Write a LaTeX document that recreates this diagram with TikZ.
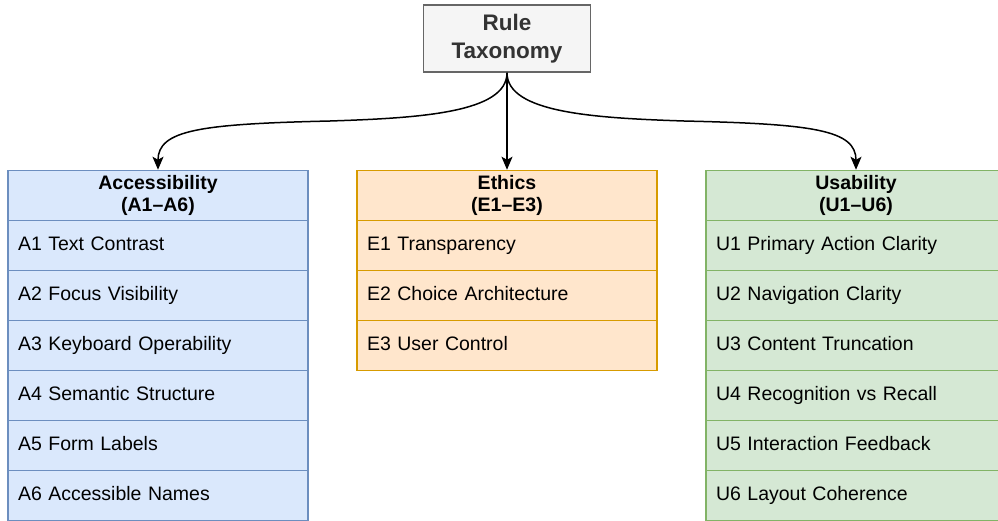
\documentclass[tikz,border=0pt]{standalone}
\usepackage{fontspec}
\setmainfont{Liberation Sans}
\usetikzlibrary{arrows.meta}
\definecolor{accFill}{HTML}{DAE8FC}
\definecolor{accLine}{HTML}{6C8EBF}
\definecolor{ethFill}{HTML}{FFE6CC}
\definecolor{ethLine}{HTML}{D79B00}
\definecolor{usaFill}{HTML}{D5E8D4}
\definecolor{usaLine}{HTML}{82B366}
\definecolor{rootFill}{HTML}{F5F5F5}
\definecolor{rootLine}{HTML}{666666}
\definecolor{rootText}{HTML}{333333}

\begin{document}
\begin{tikzpicture}[x=1pt,y=-1pt,
  cell/.style={rectangle, line width=1.5pt, minimum width=300pt, minimum height=50pt,
    inner xsep=10pt, inner ysep=0pt, text width=280pt},
  rowcell/.style={cell, align=left, text height=14pt, text depth=4pt,
    font=\fontsize{19.5}{22}\selectfont},
  headcell/.style={cell, align=center, font=\fontsize{19.5}{22}\selectfont\bfseries},
  acc/.style={fill=accFill, draw=accLine},
  eth/.style={fill=ethFill, draw=ethLine},
  usa/.style={fill=usaFill, draw=usaLine},
  rootbox/.style={rectangle, draw=rootLine, fill=rootFill, line width=1.5pt,
    minimum width=167pt, minimum height=67pt, text=rootText, align=center,
    font=\fontsize{22.5}{27.5}\selectfont\bfseries},
  link/.style={line width=1.5pt, -{Stealth[length=13pt,width=11pt,inset=3pt]}}
]
\useasboundingbox (0,0) rectangle (998,520);
\clip (0,0) rectangle (998,520);

% root of the taxonomy
\node[rootbox] (root) at (507,38.5) {Rule\\Taxonomy};

% accessibility column
\node[headcell,acc] (accH) at (158,195.5) {Accessibility\\(A1--A6)};
\foreach \t [count=\i] in {A1 Text Contrast, A2 Focus Visibility, A3 Keyboard Operability,
    A4 Semantic Structure, A5 Form Labels, A6 Accessible Names}
  \node[rowcell,acc] (acc\i) at (158,{195.5+50*\i}) {\t};

% ethics column
\node[headcell,eth] (ethH) at (507,195.5) {Ethics\\(E1--E3)};
\foreach \t [count=\i] in {E1 Transparency, E2 Choice Architecture, E3 User Control}
  \node[rowcell,eth] (eth\i) at (507,{195.5+50*\i}) {\t};

% usability column
\node[headcell,usa] (usaH) at (856,195.5) {Usability\\(U1--U6)};
\foreach \t [count=\i] in {U1 Primary Action Clarity, U2 Navigation Clarity, U3 Content Truncation,
    U4 Recognition vs Recall, U5 Interaction Feedback, U6 Layout Coherence}
  \node[rowcell,usa] (usa\i) at (856,{195.5+50*\i}) {\t};

% connectors
\draw[link] (root.south) .. controls +(0,40) and (420,118) .. (330,121)
  .. controls (200,124) and (158,130) .. (accH.north);
\draw[link] (root.south) -- (ethH.north);
\draw[link] (root.south) .. controls +(0,40) and (594,118) .. (684,121)
  .. controls (814,124) and (856,130) .. (usaH.north);
\end{tikzpicture}
\end{document}
